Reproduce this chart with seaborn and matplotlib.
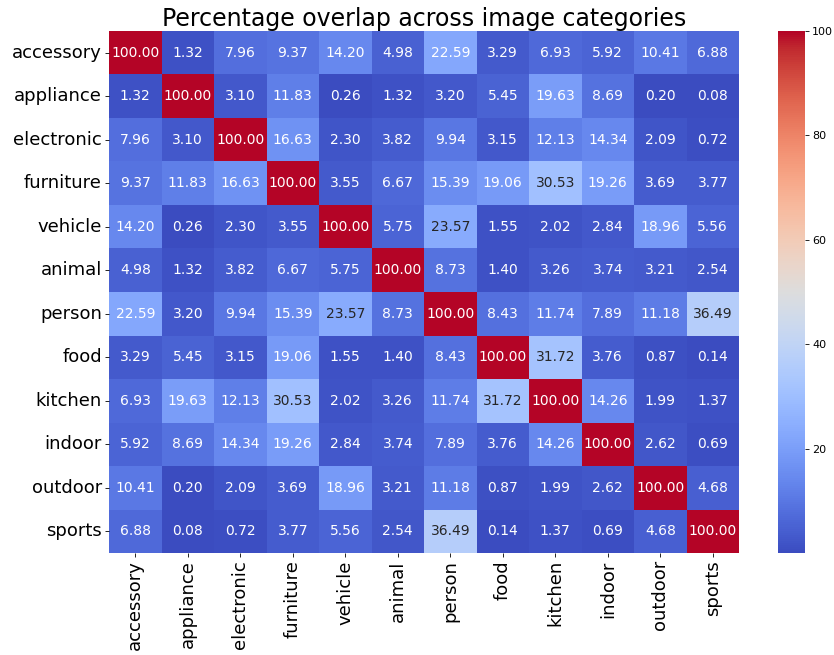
import numpy as np
import pandas as pd
import matplotlib
matplotlib.use("Agg")
import matplotlib.pyplot as plt
import seaborn as sns

categories = ["accessory", "appliance", "electronic", "furniture", "vehicle", "animal",
              "person", "food", "kitchen", "indoor", "outdoor", "sports"]

accessory  = [100.00, 1.32, 7.96, 9.37, 14.20, 4.98, 22.59, 3.29, 6.93, 5.92, 10.41, 6.88]
appliance  = [1.32, 100.00, 3.10, 11.83, 0.26, 1.32, 3.20, 5.45, 19.63, 8.69, 0.20, 0.08]
electronic = [7.96, 3.10, 100.00, 16.63, 2.30, 3.82, 9.94, 3.15, 12.13, 14.34, 2.09, 0.72]
furniture  = [9.37, 11.83, 16.63, 100.00, 3.55, 6.67, 15.39, 19.06, 30.53, 19.26, 3.69, 3.77]
vehicle    = [14.20, 0.26, 2.30, 3.55, 100.00, 5.75, 23.57, 1.55, 2.02, 2.84, 18.96, 5.56]
animal     = [4.98, 1.32, 3.82, 6.67, 5.75, 100.00, 8.73, 1.40, 3.26, 3.74, 3.21, 2.54]
person     = [22.59, 3.20, 9.94, 15.39, 23.57, 8.73, 100.00, 8.43, 11.74, 7.89, 11.18, 36.49]
food       = [3.29, 5.45, 3.15, 19.06, 1.55, 1.40, 8.43, 100.00, 31.72, 3.76, 0.87, 0.14]
kitchen    = [6.93, 19.63, 12.13, 30.53, 2.02, 3.26, 11.74, 31.72, 100.00, 14.26, 1.99, 1.37]
indoor     = [5.92, 8.69, 14.34, 19.26, 2.84, 3.74, 7.89, 3.76, 14.26, 100.00, 2.62, 0.69]
outdoor    = [10.41, 0.20, 2.09, 3.69, 18.96, 3.21, 11.18, 0.87, 1.99, 2.62, 100.00, 4.68]
sports     = [6.88, 0.08, 0.72, 3.77, 5.56, 2.54, 36.49, 0.14, 1.37, 0.69, 4.68, 100.00]

rows = [accessory, appliance, electronic, furniture, vehicle, animal,
        person, food, kitchen, indoor, outdoor, sports]
overlap = pd.DataFrame(rows, index=categories, columns=categories)

plt.rcParams.update({
    "xtick.major.size": 2.6, "ytick.major.size": 2.6,
    "xtick.major.pad": 2.6, "ytick.major.pad": 2.6,
    "xtick.major.width": 0.6, "ytick.major.width": 0.6,
})

fig = plt.figure(figsize=(8.34, 6.55), dpi=100)
ax = fig.add_axes([0.1307, 0.1557, 0.7554, 0.797])
cax = fig.add_axes([0.9329, 0.1557, 0.0324, 0.797])

sns.heatmap(overlap, annot=True, fmt=".2f", cmap="coolwarm", ax=ax, cbar_ax=cax,
            annot_kws={"fontsize": 10})

ax.set_title("Percentage overlap across image categories", fontsize=17, pad=3)
ax.set_xticklabels(categories, rotation=90, fontsize=13)
ax.set_yticklabels(categories, rotation=0, fontsize=13)
cax.tick_params(labelsize=8)

fig.savefig("out.png", dpi=100)
